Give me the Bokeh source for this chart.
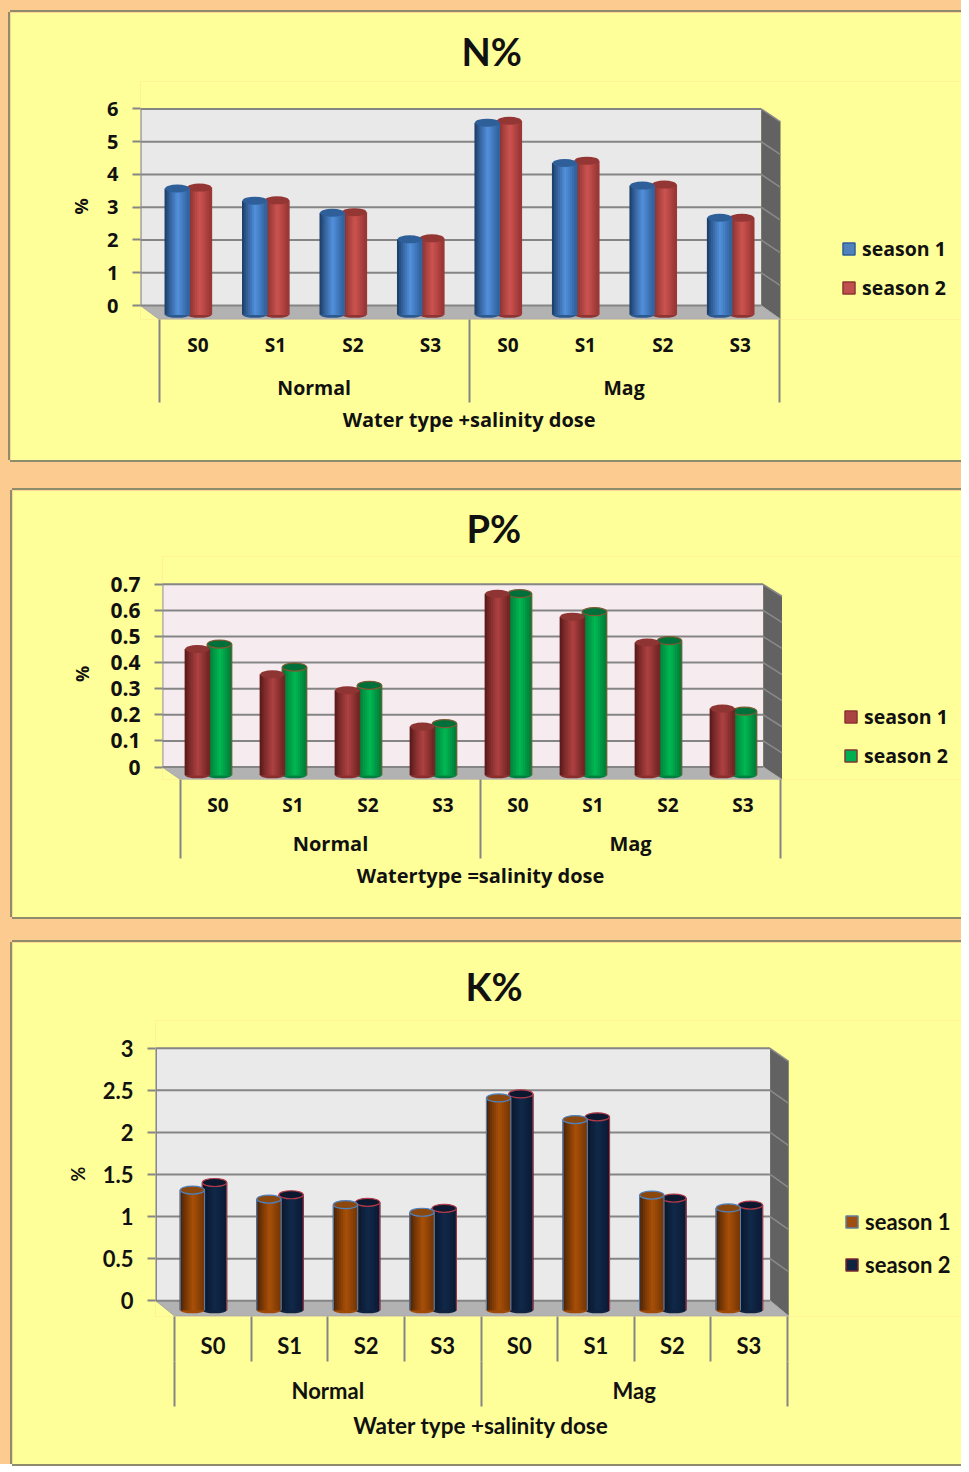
from bokeh.embed import file_html
from bokeh.resources import INLINE
from bokeh.layouts import column
from bokeh.plotting import figure
from bokeh.models import (ColumnDataSource, FixedTicker, Legend, LegendItem,
                          LinearAxis, NumeralTickFormatter, Range1d, Title)

# ---------- data ----------
doses = ["S0", "S1", "S2", "S3", "S0", "S1", "S2", "S3"]
groups = ["Normal", "Mag"]
series_names = ["season 1", "season 2"]

n_season1 = [3.57, 3.20, 2.83, 2.02, 5.58, 4.35, 3.66, 2.68]
n_season2 = [3.60, 3.21, 2.85, 2.05, 5.64, 4.42, 3.69, 2.68]
n_ticks = [0, 1, 2, 3, 4, 5, 6]

p_season1 = [0.452, 0.355, 0.294, 0.155, 0.664, 0.576, 0.477, 0.224]
p_season2 = [0.471, 0.383, 0.313, 0.166, 0.664, 0.595, 0.484, 0.214]
p_ticks = [0, 0.1, 0.2, 0.3, 0.4, 0.5, 0.6, 0.7]

k_season1 = [1.315, 1.208, 1.141, 1.051, 2.41, 2.153, 1.255, 1.102]
k_season2 = [1.405, 1.259, 1.169, 1.098, 2.457, 2.185, 1.22, 1.137]
k_ticks = [0, 0.5, 1, 1.5, 2, 2.5, 3]

ORANGE = "#FCCB90"
YELLOW = "#FFFF99"
EDGE = "#8F8C6E"
GRID = "#858585"
W, H = 961, 1464
SX, SY = W / 969, H / 1472


def mix(c1, c2, t):
    a = [int(c1[i:i + 2], 16) for i in (1, 3, 5)]
    b = [int(c2[i:i + 2], 16) for i in (1, 3, 5)]
    return "#%02x%02x%02x" % tuple(round(u + (v - u) * t) for u, v in zip(a, b))


def ramp(dark, light, right):
    out = []
    n = 12
    for i in range(n):
        t = (i + .5) / n
        if t < .55:
            out.append(mix(dark, light, (t / .55) ** .8))
        else:
            out.append(mix(light, right, (t - .55) / .45))
    return out


def chart(title, title_left, title_size, title_standoff, prev_bottom, panel, wall, front, zero_y, top_y, top_val,
          floor_y, side_top_y, s1, s2, ticks, ramps, tops, bottoms, outlines, swatch, wall_color,
          legend_x, legend_y, legend_edges, tick_font, tick_size, cat_size, grp_size, xt_size, font_style,
          xtitle, stand, pct_y, pct_stand, minor1, out1, out2, legend_size, legend_spacing, bar_bottom_y):
    pl, pt, pb = round(panel[0] * SX), round(panel[1] * SY), round(panel[2] * SY)
    frame_left = round(wall[0] * SX)
    frame_top = round((top_y - 28) * SY)
    frame_bottom = round(floor_y * SY)
    slot = (front[1] - front[0]) / 8
    yscale = (zero_y - top_y) / top_val
    xp = lambda px: (px - front[0]) / slot
    yp = lambda px: (zero_y - px) / yscale

    f = figure(width=W - pl, height=pb - pt, output_backend="svg", toolbar_location=None,
               x_axis_location=None, y_axis_location=None, frame_align=False,
               x_range=Range1d(xp(frame_left / SX), xp(W / SX)),
               y_range=Range1d(yp(frame_bottom / SY), yp(frame_top / SY)),
               min_border_left=frame_left - pl, min_border_right=0,
               min_border_top=frame_top - pt, min_border_bottom=pb - frame_bottom,
               margin=(pt - prev_bottom, 0, 0, pl),
               styles={"box-shadow": f"-2px 0 0 {EDGE}, 0 -2px 0 {EDGE}, 0 2px 0 {EDGE}"})
    f.grid.visible = False
    f.outline_line_color = None
    f.background_fill_color = YELLOW
    f.border_fill_color = YELLOW

    slots = [i + .5 for i in range(8)]
    off1, off2 = -20.8 / slot, 1.5 / slot
    bw = 24.5 / slot
    base = yp(bar_bottom_y)
    x1 = [c + off1 for c in slots]
    x2 = [c + off2 for c in slots]

    # legend proxies lie under the wall
    proxies = []
    for xs, vals, col, edge in ((x1, s1, swatch[0], legend_edges[0]), (x2, s2, swatch[1], legend_edges[1])):
        src = ColumnDataSource(dict(x=xs, top=vals, bottom=vals))
        proxies.append(f.vbar(x="x", top="top", bottom="bottom", width=1e-4, source=src,
                              fill_color=col, line_color=edge, line_width=1.5))

    # wall, side wall and floor
    xw0, xw1, xf0 = xp(wall[0]), xp(wall[1]), 0
    xside = 8 + 1.5 / slot
    yf, y0, yt, yst = yp(floor_y), 0, top_val, yp(side_top_y)
    f.patch([xw0, xw1, xw1, xw0], [y0, y0, yt, yt], fill_color=wall_color, line_color=None)
    f.patch([xw1, xside, xside, xw1], [y0, yf, yst, yt], fill_color="#626262", line_color=None)
    f.patch([xw0, xw1, xside, xf0], [y0, y0, yf, yf], fill_color="#B2B2B2", line_color="#A6A6A6", line_width=1)

    f.segment(x0=[xw0] * len(ticks), x1=[xw1] * len(ticks), y0=ticks, y1=ticks, line_color=GRID, line_width=2)
    depth = yt - yst
    f.segment(x0=[xw1] * (len(ticks) - 1), x1=[xside] * (len(ticks) - 1), y0=ticks[1:],
              y1=[t - depth for t in ticks[1:]], line_color="#8A8A8A", line_width=1.5)
    f.segment(x0=[xw0], x1=[xw0], y0=[0], y1=[yt], line_color=GRID, line_width=2.5)

    # cylinders: season 2 behind, season 1 in front
    for xs, vals, rp, tc, bc, ol in ((x2, s2, ramps[1], tops[1], bottoms[1], outlines[1]),
                                     (x1, s1, ramps[0], tops[0], bottoms[0], outlines[0])):
        f.ellipse(x=xs, y=[base] * 8, width=bw, height=6, height_units="screen", fill_color=bc, line_color=None)
        f.vbar(x=xs, top=vals, bottom=base, width=bw, fill_color=rp[len(rp) // 2], line_color=None)
        n = len(rp)
        for i, col in enumerate(rp):
            d = (-.5 + (i + .5) / n) * bw
            f.vbar(x=[v + d for v in xs], top=vals, bottom=base, width=bw / n * 1.6, fill_color=col, line_color=None)
        f.ellipse(x=xs, y=vals, width=bw, height=8, height_units="screen", fill_color=tc,
                  line_color=ol if ol else None, line_width=1.2)
        if ol:
            f.segment(x0=[v - bw / 2 for v in xs], x1=[v - bw / 2 for v in xs], y0=[base] * 8, y1=vals, line_color=ol, line_width=1)
            f.segment(x0=[v + bw / 2 for v in xs], x1=[v + bw / 2 for v in xs], y0=[base] * 8, y1=vals, line_color=ol, line_width=1)

    # axes
    ya = LinearAxis(ticker=FixedTicker(ticks=ticks), formatter=NumeralTickFormatter(format="0.[0]"),
                    axis_line_color=None, major_tick_in=0, major_tick_out=8,
                    major_tick_line_color=GRID, major_tick_line_width=2, minor_tick_line_color=None,
                    major_label_standoff=14, major_label_text_font=tick_font,
                    major_label_text_font_style=font_style, major_label_text_font_size=tick_size,
                    major_label_text_color="#111111")
    f.add_layout(ya, "left")
    pct_pos = yp(pct_y)
    pa = LinearAxis(ticker=FixedTicker(ticks=[pct_pos]), major_label_overrides={pct_pos: "%"},
                    major_label_orientation="vertical",
                    axis_line_color=None, major_tick_line_color=None, minor_tick_line_color=None,
                    major_tick_in=0, major_tick_out=0, major_label_standoff=pct_stand,
                    major_label_text_font=tick_font, major_label_text_font_style=font_style,
                    major_label_text_font_size="18px", major_label_text_color="#111111")
    f.add_layout(pa, "left")

    def xaxis(tick_pos, labels, standoff, size, minor=(), minor_out=0):
        a = LinearAxis(ticker=FixedTicker(ticks=tick_pos, minor_ticks=list(minor)),
                       major_label_overrides=dict(zip(tick_pos, labels)),
                       axis_line_color=None, major_tick_line_color=None, major_tick_in=0, major_tick_out=0,
                       minor_tick_in=0, minor_tick_out=minor_out, minor_tick_line_color=GRID, minor_tick_line_width=2,
                       major_label_standoff=standoff, major_label_text_font=tick_font,
                       major_label_text_font_style=font_style, major_label_text_font_size=size,
                       major_label_text_color="#111111")
        f.add_layout(a, "below")
        return a

    xaxis(slots, doses, stand[0], cat_size, minor1, out1)
    xaxis([2.0, 6.0], groups, stand[1], grp_size, [0, 4, 8] if out2 else [], out2)
    xaxis([4.0], [xtitle], stand[2], xt_size)

    f.title = Title(text=title, align="left", offset=round(title_left * SX) - frame_left, text_font="Lato",
                    text_font_style="bold", text_font_size=title_size, text_color="#111111", standoff=title_standoff)

    leg = Legend(items=[LegendItem(label=series_names[i], renderers=[proxies[i]]) for i in range(2)],
                 location=(round(legend_x * SX) - frame_left, legend_y), orientation="vertical",
                 background_fill_alpha=0, border_line_color=None,
                 glyph_width=15, glyph_height=15, label_standoff=6, spacing=legend_spacing, padding=0, margin=0,
                 label_text_font=tick_font, label_text_font_style=font_style, label_text_font_size=legend_size,
                 label_text_color="#111111", label_height=15)
    f.add_layout(leg)
    return f, pb


blue = ramp("#17365D", "#5290DC", "#2F5F9A")
red = ramp("#6E2523", "#CC5350", "#963533")
mar = ramp("#521515", "#AE4242", "#6E2322")
green = ramp("#00662F", "#00B853", "#007A38")
brown = ramp("#3E1C04", "#A85008", "#743605")
navy = ramp("#06101F", "#11294A", "#0A1A33")

fig1, b1 = chart("N%", 465, "38px", 15, 0, (10, 12, 463), (141, 767), (160, 785), 306.7, 109, 6, 320.5, 122,
                 n_season1, n_season2, n_ticks, (blue, red), ("#2F5F98", "#943634"), ("#2C5A90", "#8E3432"),
                 (None, None), ("#4F81BD", "#C0504D"), "#E9E9E9", 848, 18, ("#2F5F98", "#8E3432"),
                 "Open Sans", "20px", "19px", "19.5px", "20px", "bold", "Water type +salinity dose",
                 (-71, 13, 2), 207, 12, [0, 4, 8], 83, 0, "19.5px", 12, 316)

fig2, b2 = chart("P%", 470, "38px", 11, b1, (12, 493, 922), (163, 769), (181.5, 786.5), 770.7, 587, 0.7, 783.3, 599,
                 p_season1, p_season2, p_ticks, (mar, green), ("#8E3432", "#00703A"), ("#8A2F2E", "#008040"),
                 (None, "#7A5A30"), ("#A94442", "#00B050"), "#F6ECEF", 850, 10, ("#8E3432", "#7A3A30"),
                 "Open Sans", "21px", "19px", "20px", "20px", "bold", "Watertype =salinity dose",
                 (-67, 9, 2), 677, 13, [0, 4, 8], 79, 0, "19.5px", 12, 779)

fig3, b3 = chart("K%", 469, "38px", 23, b2, (12, 947, 1472), (156.5, 776), (175.7, 793.3), 1307.3, 1053.5, 3, 1322.8, 1066.7,
                 k_season1, k_season2, k_ticks, (brown, navy), ("#8A480F", "#0B1830"), ("#A04A0A", "#10233F"),
                 ("#4F81BD", "#B23A48"), ("#A04E10", "#10233F"), "#EAEAEA", 851, 38, ("#5F7F9F", "#7A2A30"),
                 "Lato", "22px", "22px", "22px", "22.5px", "bold", "Water type +salinity dose",
                 (-30, -30, 5), 1180, 10, list(range(9)), 45, 45, "22px", 16, 1317)

layout = column(fig1, fig2, fig3, spacing=0, width=W, height=H, styles={"background-color": ORANGE})
open("out.html", "w").write(file_html(layout, INLINE))
